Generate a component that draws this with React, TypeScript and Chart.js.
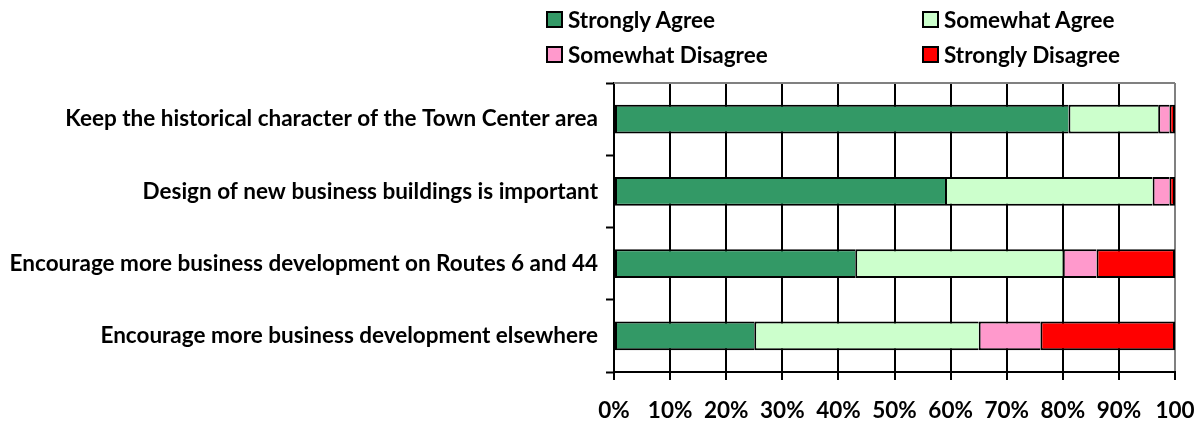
import React, { useEffect, useRef } from 'react';
import { Chart, registerables } from 'chart.js';

Chart.register(...registerables);

const categories = [
  'Keep the historical character of the Town Center area',
  'Design of new business buildings is important',
  'Encourage more business development on Routes 6 and 44',
  'Encourage more business development elsewhere',
];
const seriesNames = ['Strongly Agree', 'Somewhat Agree', 'Somewhat Disagree', 'Strongly Disagree'];
const stronglyAgree = [81, 59, 43, 25];
const somewhatAgree = [16, 37, 37, 40];
const somewhatDisagree = [2, 3, 6, 11];
const stronglyDisagree = [1, 1, 14, 24];
const xTickLabels = ['0%', '10%', '20%', '30%', '40%', '50%', '60%', '70%', '80%', '90%', '100'];

const seriesColors = ['#339966', '#CCFFCC', '#FF99CC', '#FF0000'];
const FONT = 'Lato, "Open Sans", sans-serif';
const FONT_SIZE = 22.5;

const legendPos = [
  { left: 546, top: 11 },
  { left: 922, top: 11 },
  { left: 546, top: 46 },
  { left: 922, top: 46 },
];

const topBorderPlugin = {
  id: 'topBorder',
  afterDraw(chart: any) {
    const { ctx, chartArea } = chart;
    ctx.save();
    ctx.strokeStyle = '#808080';
    ctx.lineWidth = 2;
    ctx.beginPath();
    ctx.moveTo(chartArea.left, chartArea.top);
    ctx.lineTo(chartArea.right, chartArea.top);
    ctx.stroke();
    ctx.restore();
  },
};

export default function App() {
  const ref = useRef<HTMLCanvasElement>(null);

  useEffect(() => {
    if (!ref.current) return;
    const values = [stronglyAgree, somewhatAgree, somewhatDisagree, stronglyDisagree];
    const chart = new Chart(ref.current, {
      type: 'bar',
      data: {
        labels: categories,
        datasets: seriesNames.map((name, i) => ({
          label: name,
          data: values[i],
          backgroundColor: seriesColors[i],
          borderColor: '#000000',
          borderWidth: { top: 2, bottom: 2, left: 2, right: i === seriesNames.length - 1 ? 2 : 0 },
          borderSkipped: false,
          barPercentage: 0.4,
          categoryPercentage: 1,
        })),
      },
      options: {
        indexAxis: 'y',
        responsive: false,
        animation: false,
        devicePixelRatio: 1,
        layout: { padding: { top: 83, right: 26, left: 0, bottom: 0 } },
        plugins: {
          legend: { display: false },
          tooltip: { enabled: false },
        },
        scales: {
          x: {
            stacked: true,
            min: 0,
            max: 100,
            afterFit: (scale: any) => {
              scale.height = 52;
              scale.paddingLeft = 0;
              scale.paddingRight = 0;
            },
            ticks: {
              stepSize: 10,
              color: '#000000',
              padding: 17,
              font: { family: FONT, size: FONT_SIZE, weight: 'bold' },
              callback: (_v: any, i: number) => xTickLabels[i],
              maxRotation: 0,
              autoSkip: false,
            },
            grid: {
              color: (c: any) => (c.index === 10 ? '#808080' : '#000000'),
              lineWidth: 2,
              tickLength: 8,
              tickColor: '#000000',
              tickWidth: 2,
            },
            border: { display: true, color: '#000000', width: 2 },
          },
          y: {
            stacked: true,
            afterFit: (scale: any) => {
              scale.width = 614;
              scale.paddingTop = 0;
              scale.paddingBottom = 0;
            },
            ticks: {
              color: '#000000',
              padding: 8,
              font: { family: FONT, size: FONT_SIZE, weight: 'bold' },
              autoSkip: false,
            },
            grid: {
              offset: true,
              drawOnChartArea: false,
              tickLength: 8,
              tickColor: '#000000',
              tickWidth: 2,
            },
            border: { display: true, color: '#000000', width: 2 },
          },
        },
      },
      plugins: [topBorderPlugin],
    });
    return () => chart.destroy();
  }, []);

  return (
    <div
      style={{
        position: 'fixed',
        left: 0,
        top: 0,
        width: 1201,
        height: 424,
        overflow: 'hidden',
        background: '#ffffff',
      }}
    >
      <canvas ref={ref} width={1201} height={424} style={{ width: 1201, height: 424, display: 'block' }} />
      {seriesNames.map((name, i) => (
        <div
          key={name}
          style={{
            position: 'absolute',
            left: legendPos[i].left,
            top: legendPos[i].top,
            height: 17,
            display: 'flex',
            alignItems: 'center',
            fontFamily: FONT,
            fontWeight: 'bold',
            fontSize: FONT_SIZE,
            color: '#000000',
            whiteSpace: 'nowrap',
          }}
        >
          <span
            style={{
              display: 'inline-block',
              width: 13,
              height: 13,
              border: '2px solid #000000',
              background: seriesColors[i],
              marginRight: 5,
            }}
          />
          <span>{name}</span>
        </div>
      ))}
    </div>
  );
}
